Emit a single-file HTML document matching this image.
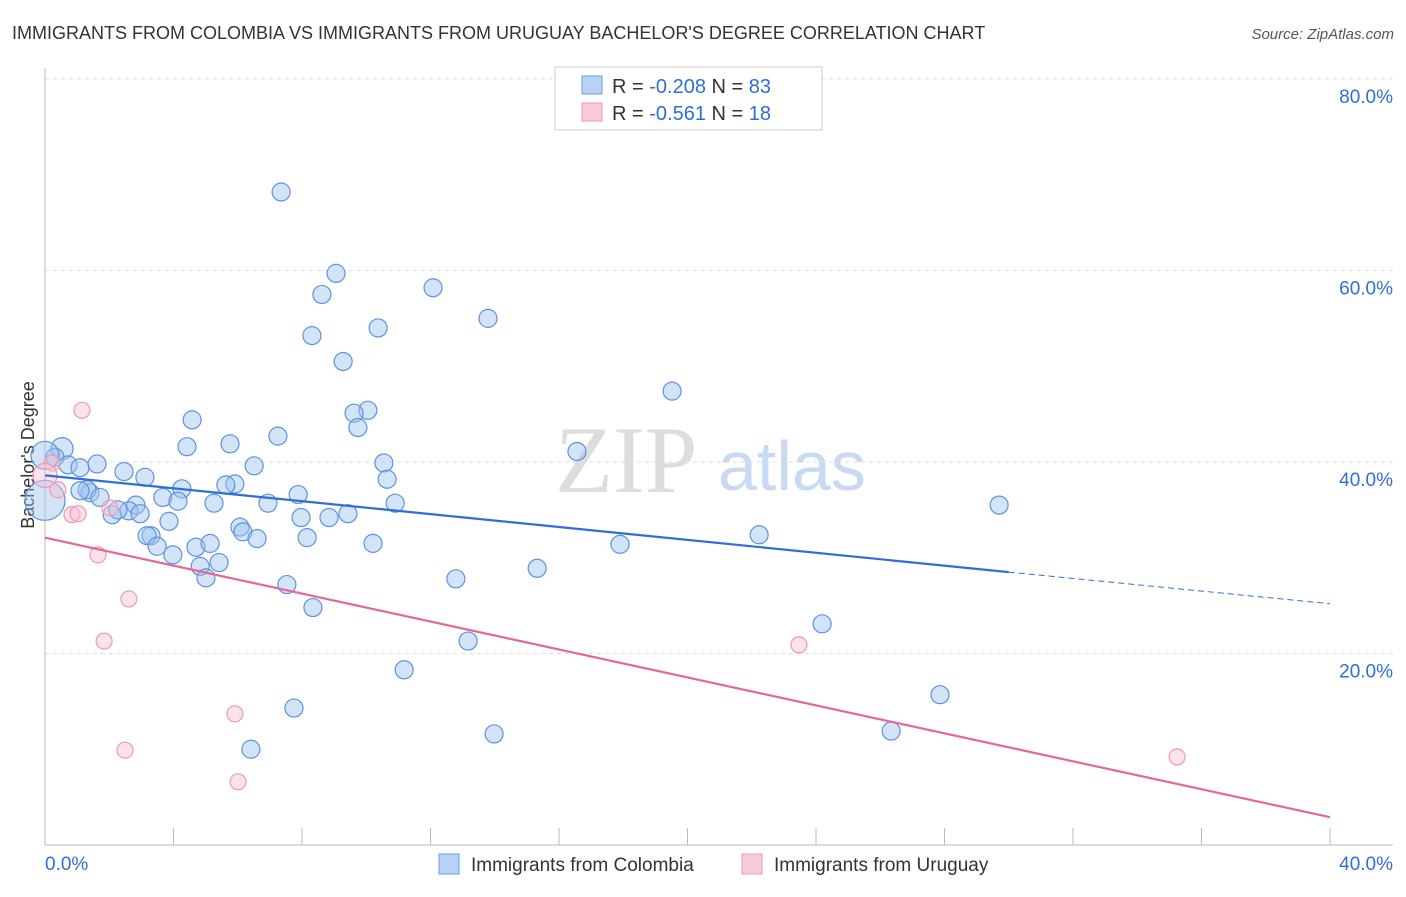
<!DOCTYPE html>
<html><head><meta charset="utf-8"><style>
body{margin:0;background:#fff;font-family:"Liberation Sans",sans-serif}
</style></head><body>
<svg id="c" width="1406" height="892" xmlns="http://www.w3.org/2000/svg">
<text x="12" y="39" font-size="18" fill="#333">IMMIGRANTS FROM COLOMBIA VS IMMIGRANTS FROM URUGUAY BACHELOR'S DEGREE CORRELATION CHART</text>
<text x="1394" y="39" font-size="15" fill="#555" font-style="italic" text-anchor="end">Source: ZipAtlas.com</text>
<text x="555" y="492" font-size="95" fill="#ddd" font-family="Liberation Serif,serif">ZIP</text>
<text x="718" y="490" font-size="70" fill="#c8daf3">atlas</text>
<text transform="translate(34,455) rotate(-90)" font-size="18" fill="#333" text-anchor="middle">Bachelor's Degree</text>
<g id="grid"></g><g id="pts"></g><g id="lines"></g>
<g>
<rect x="555" y="67" width="267" height="63" fill="#fff" stroke="#ccc"/>
<rect x="582" y="76" width="20" height="18" fill="#b8d2f5" stroke="#6a9de0"/>
<rect x="582" y="103" width="20" height="18" fill="#f9c9d7" stroke="#ee98b3"/>
<text x="612" y="93" font-size="20" fill="#333">R = <tspan fill="#2e6fd6">-0.208</tspan>   N = <tspan fill="#2e6fd6">83</tspan></text>
<text x="612" y="120" font-size="20" fill="#333">R =  <tspan fill="#2e6fd6">-0.561</tspan>   N =  <tspan fill="#2e6fd6">18</tspan></text>
</g>
<g>
<rect x="439" y="854" width="20" height="20" fill="#b8d2f5" stroke="#6a9de0"/>
<text x="471" y="871" font-size="19" fill="#333">Immigrants from Colombia</text>
<rect x="742" y="854" width="20" height="20" fill="#f9c9d7" stroke="#ee98b3"/>
<text x="774" y="871" font-size="19" fill="#333">Immigrants from Uruguay</text>
</g>
</svg>
<script>
const colX=[7.35,9.06,8.62,12.08,13.79,10.37,8.31,9.28,19.52,10.05,9.62,4.58,9.74,5.76,7.25,4.42,16.56,0.53,0.31,0.72,1.09,1.62,2.46,3.11,6.51,10.55,10.65,4.26,5.91,5.63,7.88,3.67,4.14,5.26,6.94,10.9,29.7,2.83,2.61,2.09,2.96,1.40,1.31,2.27,3.86,7.97,8.84,9.43,6.07,6.16,6.6,3.3,3.18,3.49,3.98,4.7,5.14,8.16,10.21,17.9,22.23,5.42,4.83,5.01,7.53,12.79,15.32,8.34,24.19,13.17,11.18,27.86,7.75,13.98,26.34,6.41,0,1.71,0,1.09];
const colY=[68.2,59.7,57.5,58.2,55.0,54.0,53.2,50.5,47.4,45.4,45.1,44.4,43.6,41.9,42.7,41.6,41.1,41.4,40.5,39.7,39.4,39.8,39.0,38.4,39.6,39.9,38.2,37.2,37.7,37.6,36.6,36.3,35.9,35.7,35.7,35.7,35.5,35.5,34.9,34.5,34.6,36.8,37.1,35.0,33.8,34.2,34.2,34.6,33.2,32.7,32.0,32.3,32.3,31.2,30.3,31.1,31.5,32.1,31.5,31.4,32.4,29.5,29.1,27.9,27.2,27.8,28.9,24.8,23.1,21.3,18.3,15.7,14.3,11.6,11.9,10.0,36.0,36.3,40.7,37.0];
const colR=[9,9,9,9,9,9,9,9,9,9,9,9,9,9,9,9,9,11,9,9,9,9,9,9,9,9,9,9,9,9,9,9,9,9,9,9,9,9,9,9,9,9,9,9,9,9,9,9,9,9,9,9,9,9,9,9,9,9,9,9,9,9,9,9,9,9,9,9,9,9,9,9,9,9,9,9,20,9,14,9];
const uruX=[1.15,0.22,0.4,0.84,1.03,1.65,2.61,1.84,2.02,23.47,5.91,2.49,6.01,35.24,0];
const uruY=[45.4,39.9,37.1,34.5,34.6,30.3,25.7,21.3,35.2,20.9,13.7,9.9,6.6,9.2,38.6];
const yTicks=[20,40,60,80];
const yTickLabels=["20.0%","40.0%","60.0%","80.0%"];
const xTicks=[0,4,8,12,16,20,24,28,32,36,40];
const colTrend=[38.6,28.5,25.2]; // at x=0, solid end x=30, x=40
const uruTrend=[32.1,2.9];
const X=v=>45+v/40*1285, Y=v=>845-v/20*191.5;
const NS="http://www.w3.org/2000/svg";
function mk(p,t,a){const e=document.createElementNS(NS,t);for(const k in a)e.setAttribute(k,a[k]);p.appendChild(e);return e;}
const g=document.getElementById('grid');
const ax=mk(g,'line',{x1:45,y1:68,x2:45,y2:845,stroke:'#bbb'});

const bx=mk(g,'line',{x1:45,y1:845,x2:1393,y2:845,stroke:'#bbb'});

yTicks.forEach((t,i)=>{
 const l=mk(g,'line',{x1:45,y1:Y(t),x2:1393,y2:Y(t),stroke:'#ddd','stroke-dasharray':'4,4'});
 
 const tx=mk(g,'text',{x:1393,y:Y(t)+24,'font-size':19,fill:'#2e6fd6','text-anchor':'end'});tx.textContent=yTickLabels[i];
 
});
xTicks.forEach(t=>{const l=mk(g,'line',{x1:X(t),y1:828,x2:X(t),y2:845,stroke:'#bbb'});
 });
const x0=mk(g,'text',{x:45,y:870,'font-size':19,fill:'#2e6fd6'});x0.textContent='0.0%';

const x1=mk(g,'text',{x:1393,y:870,'font-size':19,fill:'#2e6fd6','text-anchor':'end'});x1.textContent='40.0%';

const P=document.getElementById('pts');
colX.forEach((v,i)=>{const c=mk(P,'circle',{cx:X(v),cy:Y(colY[i]),r:colR[i],fill:'rgba(160,195,240,0.45)',stroke:'#5b93de','stroke-width':1.2});
 });
uruX.forEach((v,i)=>{const c=mk(P,'circle',{cx:X(v),cy:Y(uruY[i]),r:i==14?12:8,fill:'rgba(248,190,208,0.45)',stroke:'#ee98b3','stroke-width':1.2});
 });
const L=document.getElementById('lines');
const a=mk(L,'line',{x1:X(0),y1:Y(colTrend[0]),x2:X(30),y2:Y(colTrend[1]),stroke:'#2e6fd6','stroke-width':2.2});

const b=mk(L,'line',{x1:X(30),y1:Y(colTrend[1]),x2:X(40),y2:Y(colTrend[2]),stroke:'#2e6fd6','stroke-width':1,'stroke-dasharray':'6,4'});

const u=mk(L,'line',{x1:X(0),y1:Y(uruTrend[0]),x2:X(40),y2:Y(uruTrend[1]),stroke:'#e4679a','stroke-width':2.2});

</script>
</body></html>
